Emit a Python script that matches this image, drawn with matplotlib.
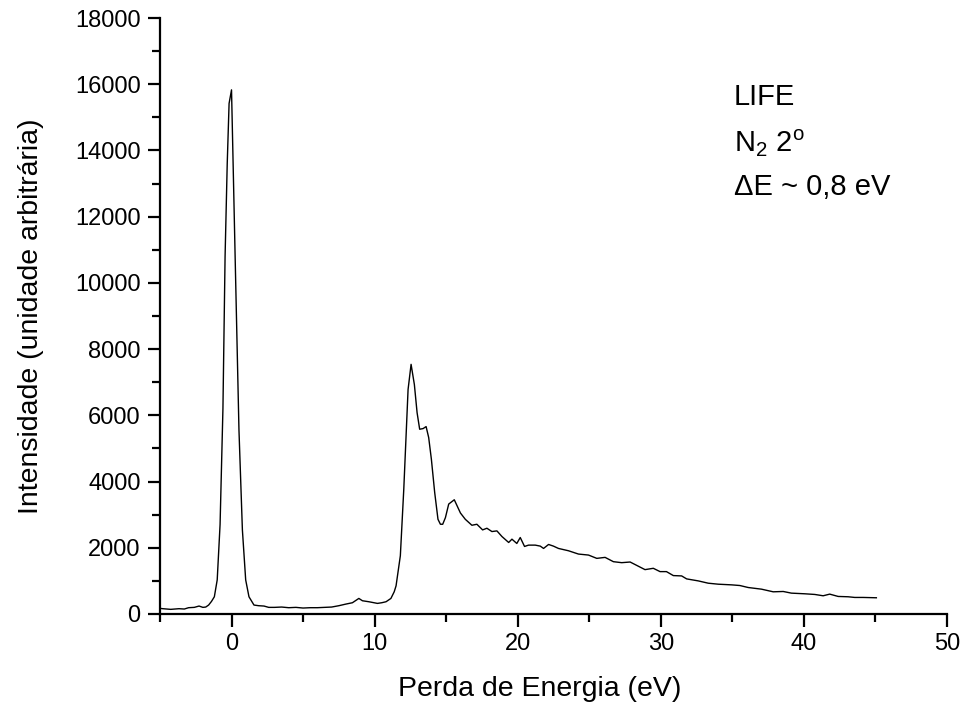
import matplotlib
matplotlib.use("Agg")
import matplotlib.pyplot as plt
from matplotlib.ticker import MultipleLocator

plt.rcParams['font.family'] = ['Liberation Sans', 'DejaVu Sans']
plt.rcParams['mathtext.fontset'] = 'custom'
plt.rcParams['mathtext.rm'] = 'Liberation Sans'

# energy loss (eV) and intensity
energia = [-5.0, -4.8, -4.5, -4.25, -4.0, -3.67, -3.3, -3.0, -2.6, -2.27, -2.0, -1.8,
           -1.6, -1.4, -1.2, -1.0, -0.8, -0.6, -0.45, -0.3, -0.17, 0.0, 0.12, 0.25,
           0.52, 0.76, 0.99, 1.22, 1.57, 1.9, 2.27, 2.6, 3.0, 3.5, 4.0, 4.5, 5.0, 5.5,
           6.0, 6.5, 7.0, 7.5, 8.0, 8.45, 8.9, 9.15, 9.6, 10.2, 10.5, 10.8, 11.14,
           11.37, 11.5, 11.8, 12.04, 12.34, 12.55, 12.78, 12.97, 13.15, 13.39, 13.6,
           13.78, 13.97, 14.2, 14.43, 14.6, 14.76, 14.95, 15.18, 15.57, 15.76, 16.0,
           16.34, 16.8, 17.15, 17.55, 17.85, 18.2, 18.55, 18.9, 19.37, 19.6, 19.94,
           20.18, 20.48, 20.76, 21.23, 21.58, 21.81, 22.16, 22.5, 22.85, 23.55, 24.25,
           24.95, 25.53, 26.11, 26.69, 27.27, 27.86, 28.44, 28.9, 29.48, 29.95, 30.4,
           30.88, 31.46, 31.81, 32.62, 33.32, 34.02, 34.95, 35.53, 36.11, 37.04, 37.86,
           38.56, 39.13, 40.07, 40.77, 41.35, 41.81, 42.4, 43.1, 43.56, 44.14, 45.07]
intensidade = [170, 160, 150, 140, 150, 160, 150, 190, 200, 240, 200, 210,
               270, 380, 520, 1030, 2700, 6200, 10800, 13600, 15420, 15830, 13400, 10840,
               5560, 2540, 1030, 520, 270, 250, 240, 200, 200, 210, 190, 200, 180, 190,
               190, 200, 210, 250, 300, 340, 470, 400, 370, 320, 340, 370, 470,
               670, 850, 1760, 3770, 6780, 7540, 6930, 6080, 5580, 5600, 5660,
               5330, 4670, 3670, 2860, 2710, 2710, 2910, 3320, 3450, 3270, 3050,
               2860, 2680, 2710, 2540, 2590, 2490, 2510, 2340, 2160, 2260, 2130,
               2310, 2040, 2080, 2080, 2050, 1980, 2100, 2050, 1980, 1910, 1810,
               1780, 1680, 1710, 1580, 1550, 1570, 1440, 1340, 1380, 1280, 1280,
               1160, 1150, 1060, 1000, 930, 900, 880, 860, 800, 750, 670,
               680, 630, 610, 590, 550, 600, 530, 520, 500, 500, 490]

fig = plt.figure(figsize=(9.62, 7.09), dpi=100)
ax = fig.add_axes([0.1663, 0.134, 0.818, 0.8406])

ax.plot(energia, intensidade, color='black', linewidth=1.0)

ax.set_xlim(-5, 50)
ax.set_ylim(0, 18000)
ax.xaxis.set_major_locator(MultipleLocator(10))
ax.xaxis.set_minor_locator(MultipleLocator(5))
ax.yaxis.set_major_locator(MultipleLocator(2000))
ax.yaxis.set_minor_locator(MultipleLocator(1000))

ax.spines['top'].set_visible(False)
ax.spines['right'].set_visible(False)
for s in ('left', 'bottom'):
    ax.spines[s].set_linewidth(1.6)
ax.tick_params(which='major', direction='out', length=9, width=1.6, labelsize=17, pad=5)
ax.tick_params(which='minor', direction='out', length=5.5, width=1.6)

ax.set_xlabel('Perda de Energia (eV)', fontsize=20.5, labelpad=15, x=0.482)
ax.set_ylabel('Intensidade (unidade arbitrária)', fontsize=20.5, labelpad=22)

ax.text(35.1, 15600, 'LIFE', fontsize=21, va='center')
ax.text(35.1, 14220, r'N$_2$ 2$^\mathrm{o}$', fontsize=21, va='center')
ax.text(35.1, 12890, '\u0394E ~ 0,8 eV', fontsize=21, va='center')

fig.savefig('out.png', dpi=100)
